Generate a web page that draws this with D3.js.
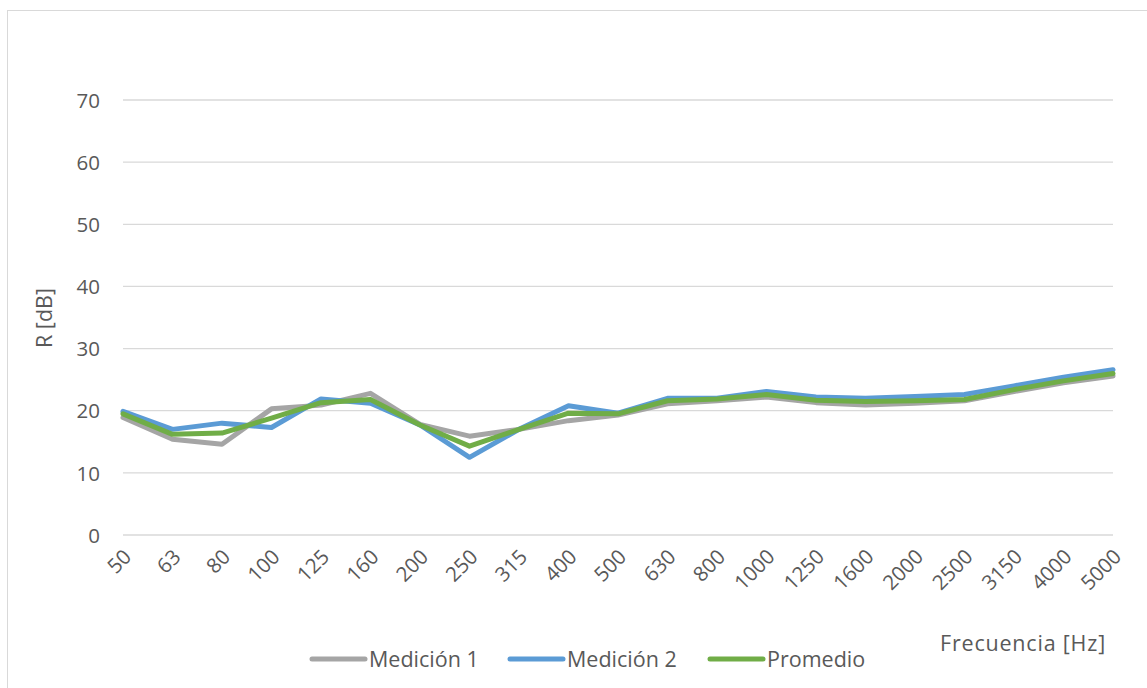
<!DOCTYPE html>
<html>
<head>
<meta charset="utf-8">
<script src="https://cdn.jsdelivr.net/npm/d3@7"></script>
<style>
  html, body { margin: 0; padding: 0; background: #fff; }
  svg { display: block; }
  text { font-family: "Open Sans", sans-serif; fill: #595959; }
</style>
</head>
<body>
<svg id="chart" width="1147" height="688"></svg>
<script>
const categories = ["50","63","80","100","125","160","200","250","315","400","500","630","800","1000","1250","1600","2000","2500","3150","4000","5000"];
const medicion1 = [18.9,15.4,14.6,20.3,20.9,22.8,17.8,15.9,17.0,18.4,19.3,21.1,21.6,22.2,21.3,20.9,21.2,21.6,23.1,24.5,25.6];
const medicion2 = [19.9,17.0,18.0,17.3,21.9,21.2,17.7,12.5,17.0,20.8,19.6,22.0,22.0,23.1,22.2,22.0,22.3,22.6,24.0,25.4,26.6];
const promedio  = [19.5,16.2,16.4,18.8,21.3,21.8,17.7,14.3,17.0,19.6,19.5,21.6,21.9,22.6,21.7,21.5,21.6,21.8,23.4,24.8,26.0];
const yTicks = [0,10,20,30,40,50,60,70];
const seriesNames = ["Medición 1","Medición 2","Promedio"];
const seriesColors = ["#A5A5A5","#5B9BD5","#70AD47"];
const seriesValues = [medicion1, medicion2, promedio];
const xTitle = "Frecuencia [Hz]";
const yTitle = "R [dB]";

const svg = d3.select("#chart");

// outer chart border
svg.append("rect").attr("x",7.5).attr("y",10.5).attr("width",1200).attr("height",720)
  .attr("fill","none").attr("stroke","#D9D9D9").attr("stroke-width",1);

const x = d3.scalePoint().domain(categories).range([123,1113]).padding(0);
const y = d3.scaleLinear().domain([0,70]).range([535,100]);

// gridlines
svg.append("g").selectAll("line").data(yTicks).join("line")
  .attr("x1",123).attr("x2",1113)
  .attr("y1",d=>y(d)).attr("y2",d=>y(d))
  .attr("stroke","#D9D9D9").attr("stroke-width",1.3);

// y axis labels
const yAxis = d3.axisLeft(y).tickValues(yTicks).tickSize(0).tickPadding(0);
const gy = svg.append("g").attr("transform","translate(100,0)").call(yAxis);
gy.select(".domain").remove();
gy.selectAll("text").attr("font-size",20.5).attr("fill","#595959")
  .style("font-family","'Open Sans', sans-serif").attr("x",0).attr("dy","0.35em");

// x axis labels
const xAxis = d3.axisBottom(x).tickSize(0).tickPadding(0);
const gx = svg.append("g").attr("transform","translate(0,535)").call(xAxis);
gx.select(".domain").remove();
gx.selectAll("text").attr("font-size",20.5).attr("fill","#595959")
  .style("font-family","'Open Sans', sans-serif")
  .attr("text-anchor","end").attr("y",0).attr("dy","0.35em")
  .attr("transform","translate(4,18) rotate(-45)");

// lines
const line = d3.line().x((d,i)=>x(categories[i])).y(d=>y(d));
seriesValues.forEach((vals,k)=>{
  svg.append("path").datum(vals).attr("d",line)
    .attr("fill","none").attr("stroke",seriesColors[k]).attr("stroke-width",5)
    .attr("stroke-linejoin","round").attr("stroke-linecap","round");
});

// axis titles
svg.append("text").attr("transform","translate(52,318) rotate(-90)")
  .attr("text-anchor","middle").attr("font-size",21.5).text(yTitle);
svg.append("text").attr("x",1106).attr("y",643).attr("dy","0.35em")
  .attr("text-anchor","end").attr("font-size",21.5).attr("letter-spacing",0.8).text(xTitle);

// legend
const legendX = [312,510,710];
const lg = svg.append("g");
seriesNames.forEach((n,k)=>{
  lg.append("line").attr("x1",legendX[k]).attr("x2",legendX[k]+53)
    .attr("y1",659).attr("y2",659).attr("stroke",seriesColors[k]).attr("stroke-width",5)
    .attr("stroke-linecap","round");
  lg.append("text").attr("x",legendX[k]+57).attr("y",659).attr("dy","0.35em")
    .attr("font-size",21.5).text(n);
});
</script>
</body>
</html>
